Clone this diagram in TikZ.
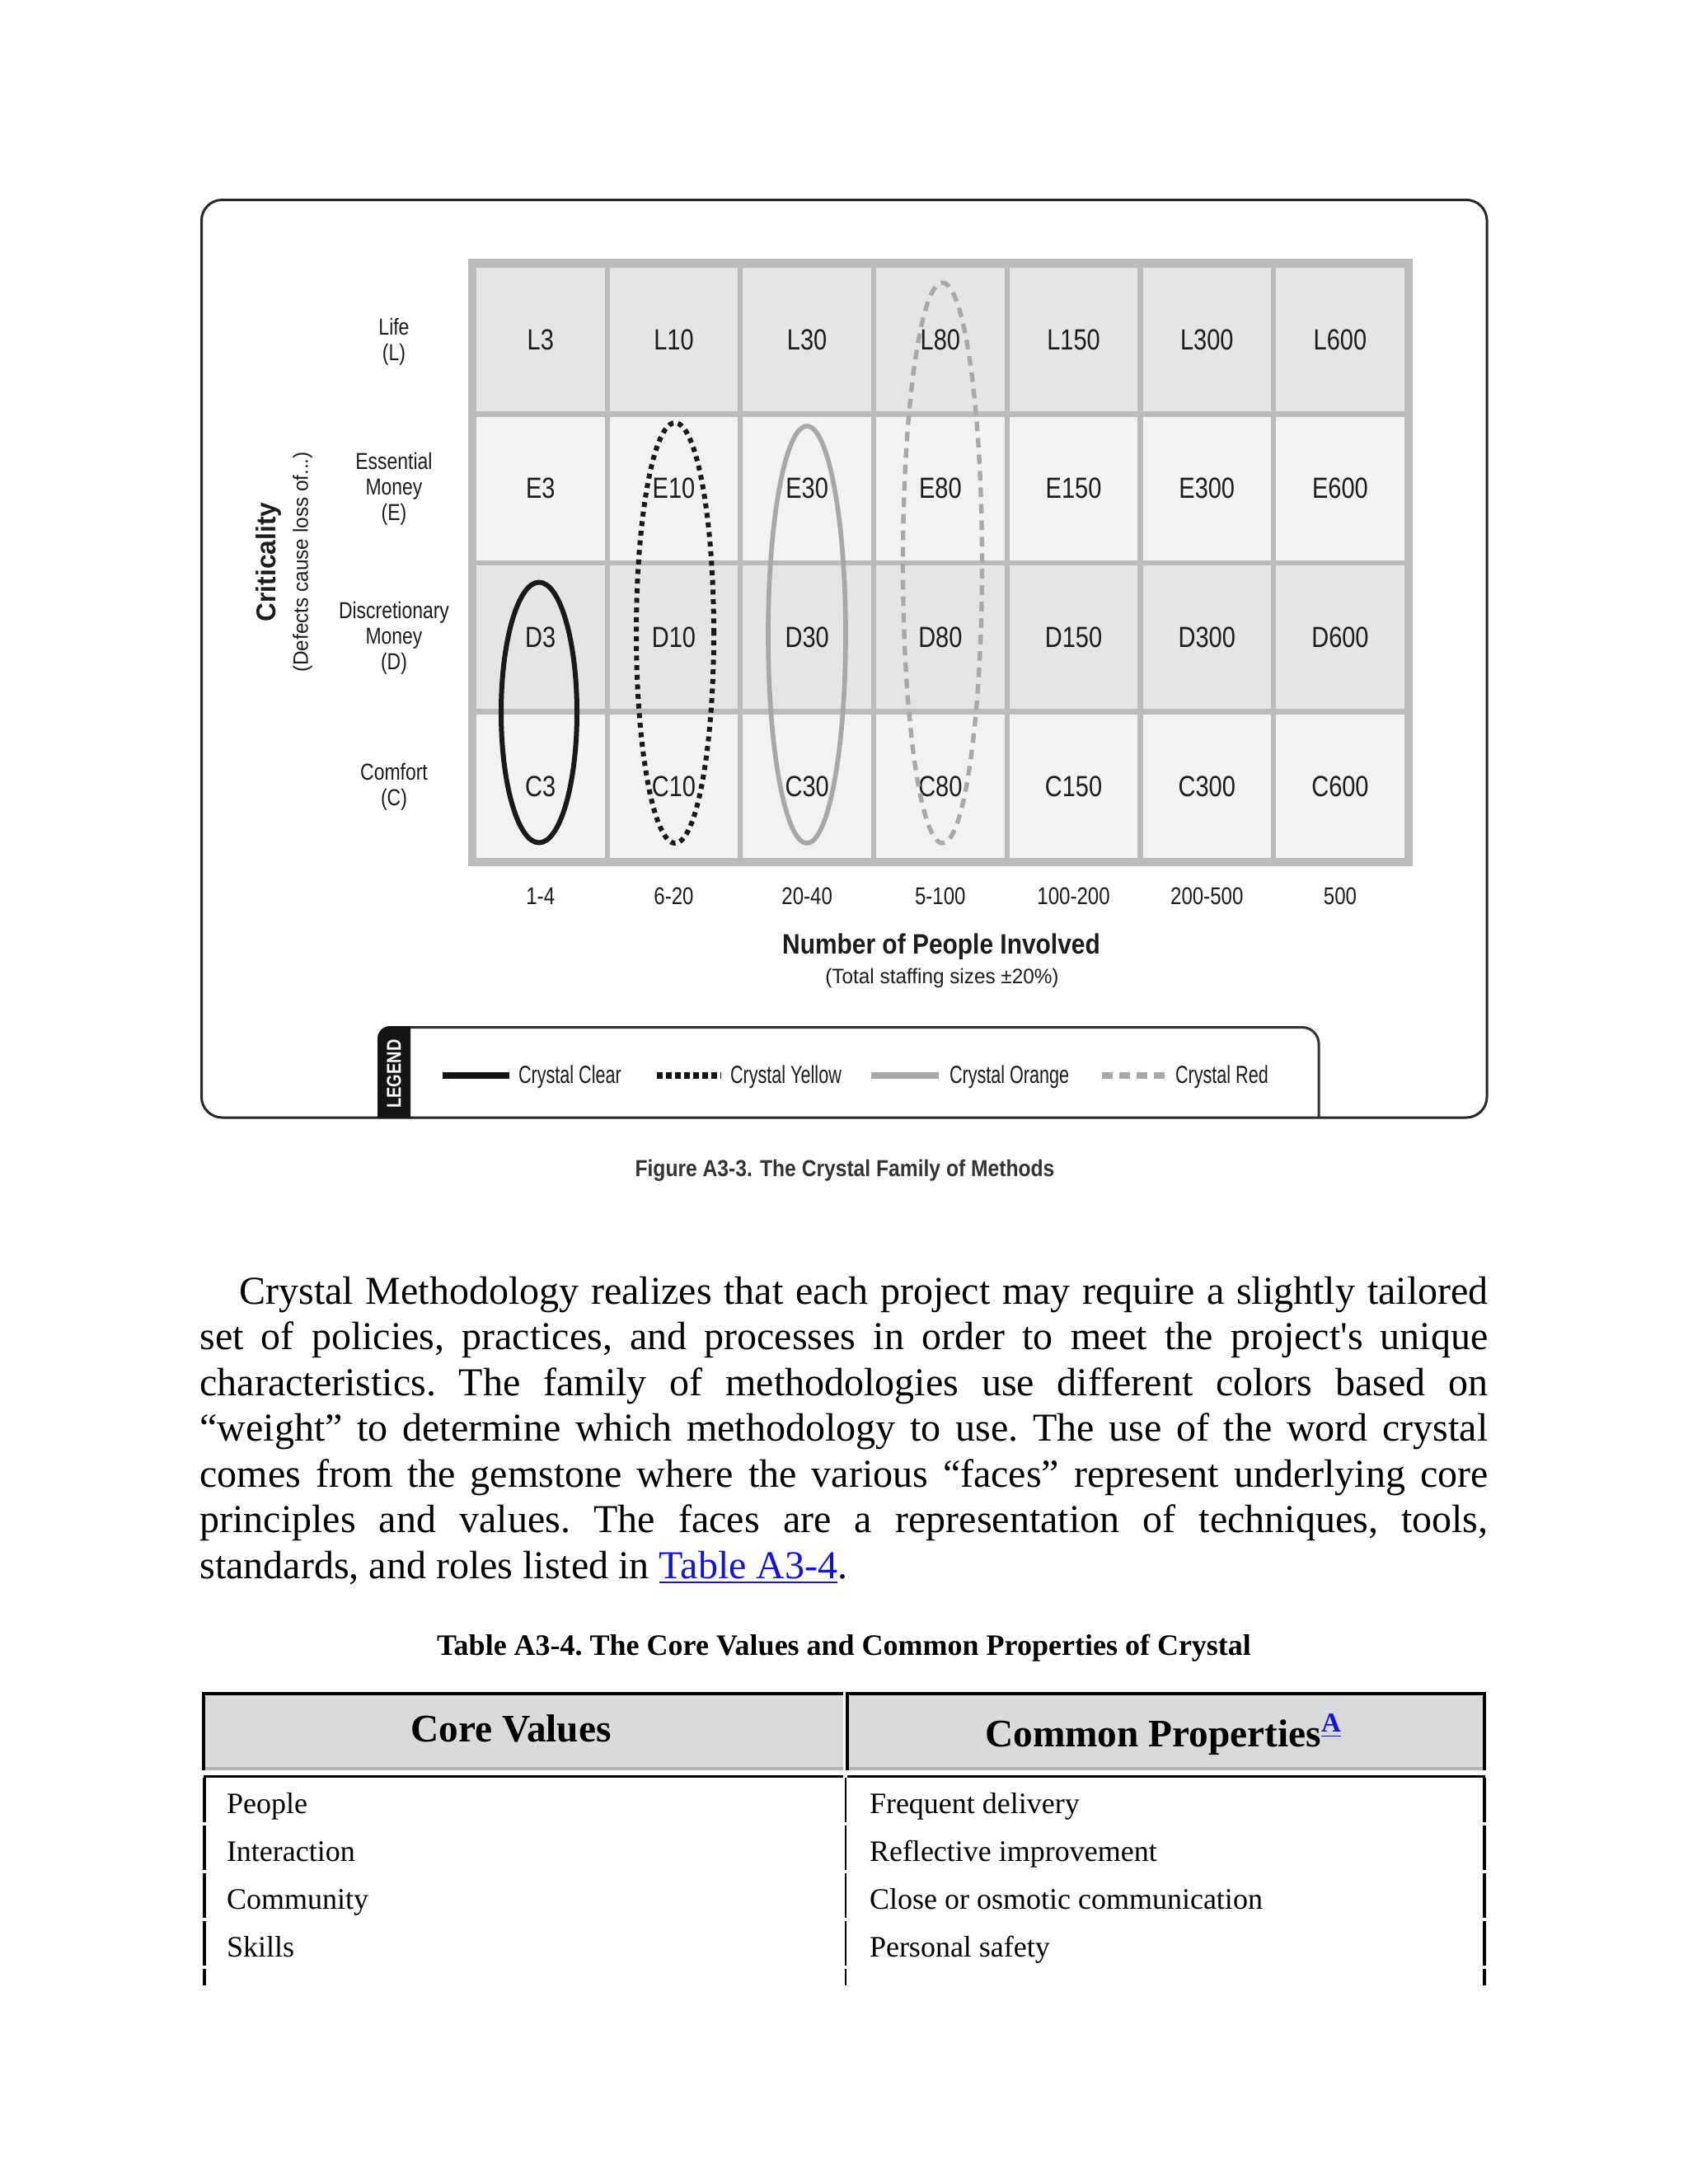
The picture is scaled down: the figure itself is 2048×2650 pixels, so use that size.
\documentclass[tikz,border=0pt]{standalone}
\usepackage{fontspec}
\usetikzlibrary{calc}
\newfontfamily\bookserif{Liberation Serif}
\newfontfamily\gridsans{Liberation Sans}[FakeStretch=0.82]
\newfontfamily\titlesans{Liberation Sans}[FakeStretch=0.88]
\newfontfamily\keysans{Liberation Sans}[FakeStretch=0.72]
\newfontfamily\notesans{Liberation Sans}[FakeStretch=0.96]
\definecolor{ink}{HTML}{1E1B1C}
\definecolor{framegray}{HTML}{B9BBBD}
\definecolor{celldark}{HTML}{E4E5E6}
\definecolor{celllight}{HTML}{F1F2F2}
\definecolor{loopgray}{HTML}{A6A8AA}
\definecolor{headgray}{HTML}{D9DADC}
\definecolor{shadowgray}{HTML}{B4B5B7}
\definecolor{linkblue}{HTML}{1212E0}

\begin{document}
\begin{tikzpicture}[x=0.3pt, y=-0.3pt,
    every node/.style={inner sep=0pt, outer sep=0pt, text=ink},
    celllabel/.style={font=\gridsans\fontsize{10.6}{12}\selectfont},
    rowlabel/.style={font=\gridsans\fontsize{8.4}{9.3}\selectfont, align=center},
    sizelabel/.style={font=\gridsans\fontsize{8.8}{10}\selectfont, anchor=base},
    keytext/.style={font=\keysans\fontsize{9}{10}\selectfont, anchor=base west},
    tabtext/.style={font=\bookserif\fontsize{10.8}{13}\selectfont, text=black, anchor=base west},
    headtext/.style={font=\bookserif\bfseries\fontsize{14.2}{17}\selectfont, text=black, anchor=base}]
  \useasboundingbox[fill=white] (0,0) rectangle (2048,2650);

  % figure frame
  \draw[ink!95, line width=0.9pt, rounded corners=7.5pt] (244.5,242.5) rectangle (1804,1356);

  % criticality grid
  \fill[framegray] (568,314) rectangle (1714,1051);
  \foreach \r/\lt/\tone in {0/L/celldark,1/E/celllight,2/D/celldark,3/C/celllight}
    \foreach \n [count=\c from 0] in {3,10,30,80,150,300,600} {
      \fill[\tone] ({578+161.7*\c},{325+180.67*\r}) rectangle ++(155.5,174);
      \node[celllabel] (\lt\n) at ({655.75+161.7*\c},{412+180.67*\r}) {\lt\n};
    }

  \node[rowlabel] (lifelab) at (478,415) {Life\\(L)};
  \node[rowlabel] (esslab) at (478,593) {Essential\\Money\\(E)};
  \node[rowlabel] (disclab) at (478,774) {Discretionary\\Money\\(D)};
  \node[rowlabel] (comflab) at (478,955) {Comfort\\(C)};
  \node[rotate=90, font=\notesans\bfseries\fontsize{9.9}{12}\selectfont] (critlab) at (326,682) {Criticality};
  \node[rotate=90, font=\notesans\fontsize{7.6}{9}\selectfont] (critnote) at (367,682) {(Defects cause loss of...)};

  \foreach \s [count=\c from 0] in {1-4,6-20,20-40,5-100,100-200,200-500,500}
    \node[sizelabel] (size\c) at ({655.75+161.7*\c},1097) {\s};
  \node[anchor=base, font=\titlesans\bfseries\fontsize{10.2}{12}\selectfont] (peoplelab) at (1142,1157) {Number of People Involved};
  \node[anchor=base, font=\notesans\fontsize{7.6}{9}\selectfont] (peoplenote) at (1143,1193) {(Total staffing sizes ±20\%)};

  % methodology loops
  \draw[black!90, line width=1.8pt] (654,864.5) ellipse [x radius=13.8pt, y radius=47.4pt];
  \draw[black!90, line width=1.8pt, dash pattern=on 1.8pt off 1.7pt] (819,768) ellipse [x radius=14.1pt, y radius=76.5pt];
  \draw[loopgray, line width=1.7pt] (979,770) ellipse [x radius=14.1pt, y radius=75.9pt];
  \draw[loopgray, line width=1.6pt, dash pattern=on 3.5pt off 2.5pt] (1143.5,683) ellipse [x radius=14.4pt, y radius=102pt];

  % legend
  \fill[black!92] (458,1357) -- (458,1260) arc[start angle=180, end angle=90, radius=4.5pt] -- (498,1245) -- (498,1357) -- cycle;
  \draw[ink!90, line width=0.9pt] (498,1246.5) -- (1580,1246.5) arc[start angle=90, end angle=0, radius=6pt] -- (1600,1357);
  \node[rotate=90, text=white, font=\gridsans\bfseries\fontsize{7.3}{9}\selectfont] (legendtag) at (478,1303) {LEGEND};
  \draw[black!92, line width=2.6pt] (537,1305) -- (618,1305);
  \node[keytext] (keyclear) at (629,1314) {Crystal Clear};
  \draw[black!92, line width=2.6pt, dash pattern=on 2pt off 1.3pt] (797,1305) -- (875,1305);
  \node[keytext] (keyyellow) at (886,1314) {Crystal Yellow};
  \draw[loopgray, line width=2.4pt] (1057,1305) -- (1139,1305);
  \node[keytext] (keyorange) at (1152,1314) {Crystal Orange};
  \draw[loopgray, line width=2.4pt, dash pattern=on 3.9pt off 2.4pt] (1337,1305) -- (1413,1305);
  \node[keytext] (keyred) at (1426,1314) {Crystal Red};

  \node[anchor=base, text=ink!90, font=\titlesans\bfseries\fontsize{8.4}{10}\selectfont] (figcap) at (1025,1427) {Figure A3-3. The Crystal Family of Methods};

  % page text
  \node[anchor=base west, text width=468.9pt, align=justify, text=black,
        font=\bookserif\fontsize{14.4}{16.65}\selectfont] (para) at (242.5,1582)
    {\frenchspacing\tolerance=10000\hyphenpenalty=10000\hspace*{1em}Crystal Methodology realizes that each project may require a slightly tailored\linebreak
     set of policies, practices, and processes in order to meet the project's unique\linebreak
     characteristics. The family of methodologies use different colors based on\linebreak
     “weight” to determine which methodology to use. The use of the word crystal\linebreak
     comes from the gemstone where the various “faces” represent underlying core\linebreak
     principles and values. The faces are a representation of techniques, tools,\linebreak
     standards, and roles listed in {\color{linkblue}\underline{Table A3-4}}.};

  \node[anchor=base, text=black, font=\bookserif\bfseries\fontsize{10.8}{13}\selectfont] (tabcap) at (1024,2008) {\frenchspacing Table A3-4. The Core Values and Common Properties of Crystal};

  % table header
  \foreach \xa/\xb in {247/1023,1028/1802} {
    \fill[headgray] (\xa,2056) rectangle (\xb,2148);
    \draw[shadowgray, line width=1.1pt] (\xa,2146) -- (\xb,2146);
    \draw[black, line width=1.4pt] (\xa,2055) -- (\xb,2055);
    \draw[black, line width=1.1pt] (\xa,2053) -- (\xa,2148);
    \draw[black, line width=1pt] (\xa,2155.5) -- (\xb,2155.5);
  }
  \draw[black, line width=1.1pt] (1801,2053) -- (1801,2148);
  \node[headtext] (corehead) at (620,2113) {Core Values};
  \node[headtext] (prophead) at (1412,2119) {Common Properties\textsuperscript{\color{linkblue}\underline{A}}};

  % table body
  \foreach \k in {0,...,3} {
    \draw[black, line width=1.2pt] (248,{2157+58*\k}) -- (248,{2211+58*\k});
    \draw[black, line width=0.6pt] (1026,{2157+58*\k}) -- (1026,{2211+58*\k});
    \draw[black, line width=1.2pt] (1801,{2157+58*\k}) -- (1801,{2211+58*\k});
  }
  \draw[black, line width=1.2pt] (248,2389) -- (248,2409);
  \draw[black, line width=0.6pt] (1026,2389) -- (1026,2409);
  \draw[black, line width=1.2pt] (1801,2389) -- (1801,2409);
  \foreach \cv/\cp [count=\k from 0] in {People/Frequent delivery,Interaction/Reflective improvement,Community/Close or osmotic communication,Skills/Personal safety} {
    \node[tabtext] (core\k) at (275,{2200+58*\k}) {\cv};
    \node[tabtext] (prop\k) at (1055,{2200+58*\k}) {\cp};
  }
\end{tikzpicture}
\end{document}
